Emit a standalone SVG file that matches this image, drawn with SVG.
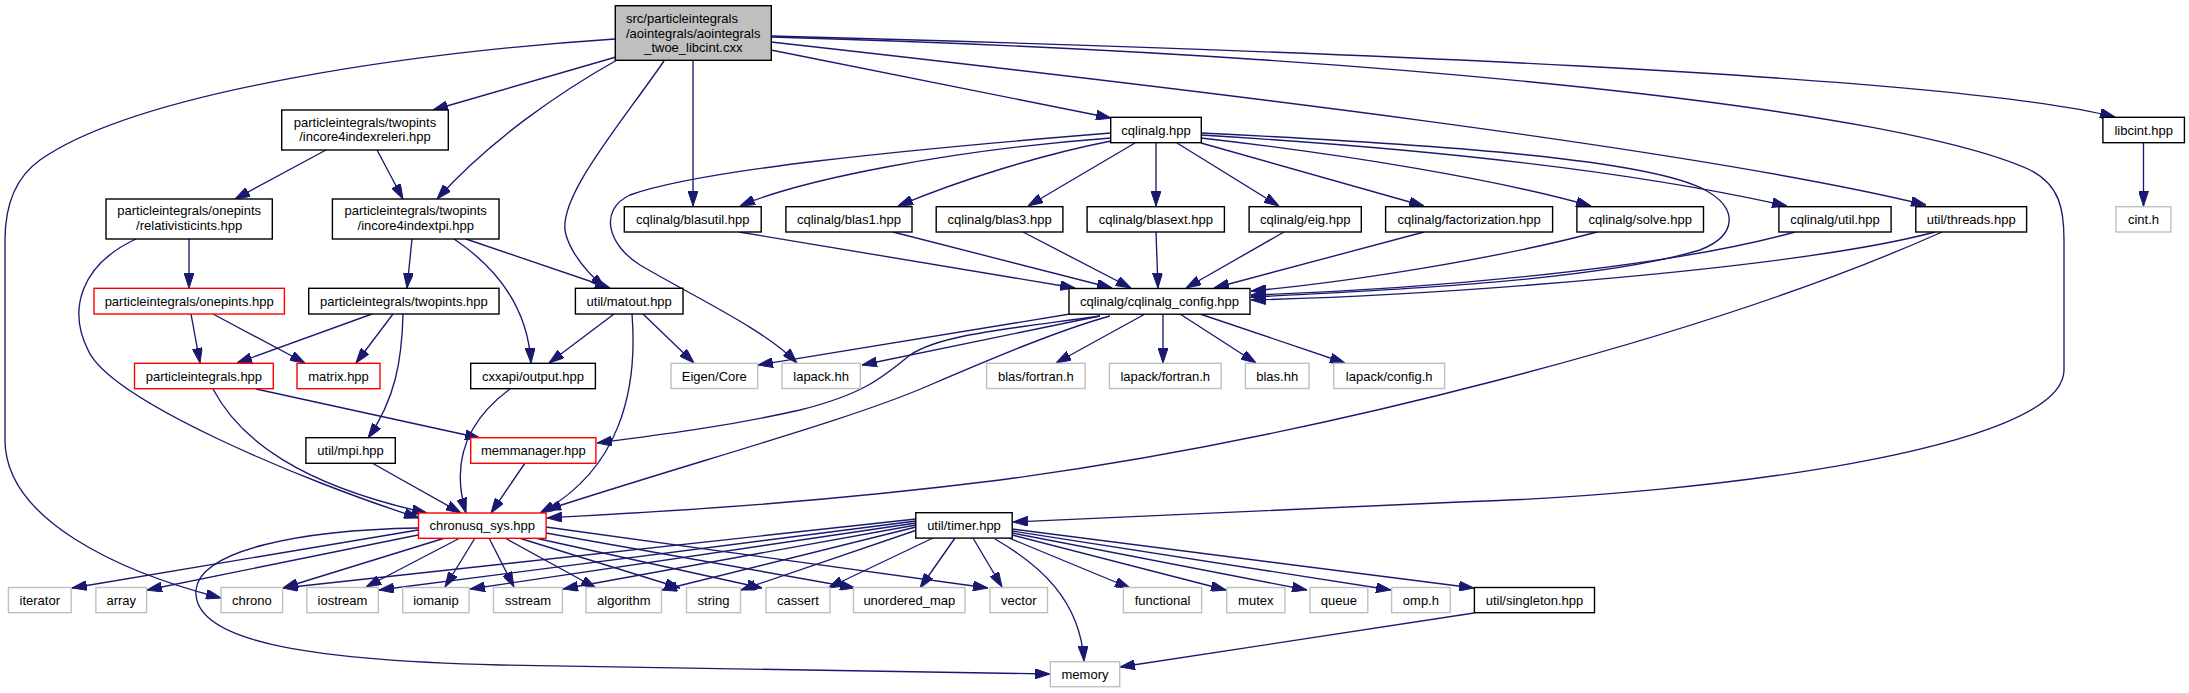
<svg xmlns="http://www.w3.org/2000/svg" width="2189" height="693" viewBox="0 0 2189 693">
<style>
rect{stroke-width:1.4}
.n{fill:#fff;stroke:#000}
.r{fill:#fff;stroke:#ff0000}
.g{fill:#fff;stroke:#bfbfbf}
.root{fill:#bfbfbf;stroke:#000}
text{font-family:"Liberation Sans",Arial,sans-serif;font-size:13px;fill:#000;text-anchor:middle}
#edges path{fill:none;stroke:#191970;stroke-width:1.35;marker-end:url(#a)}
</style>
<defs>
<marker id="a" markerUnits="userSpaceOnUse" markerWidth="15" markerHeight="10" refX="15" refY="5" orient="auto" viewBox="0 0 15 10"><path d="M0,0 L15,5 L0,10 z" fill="#191970" stroke="#191970" stroke-width="1"/></marker>
</defs>
<rect width="2189" height="693" fill="#fff"/>
<g id="edges">
<path d="M615,39 C420,52 140,90 40,160 C12,180 5,210 5,240 L5,440 C5,520 120,572 221,598"/>
<path d="M616,57 L433,110"/>
<path d="M617,60 C560,92 490,140 437,199"/>
<path d="M664,61 C620,125 555,200 566,235 C572,255 590,275 605,288"/>
<path d="M693,60 L693,206"/>
<path d="M771,50 L1111,118"/>
<path d="M771,36 C1300,50 1950,75 2115,117"/>
<path d="M771,42 C1200,90 1700,150 1926,205"/>
<path d="M771,37 C1400,55 1900,110 2030,170 C2060,185 2064,210 2064,240 L2064,370 C2064,450 1700,495 1460,502 C1250,510 1100,518 1013,522"/>
<path d="M326,150 L235,199"/>
<path d="M377,150 L403,199"/>
<path d="M189,239 L189,288"/>
<path d="M136,239 C80,265 68,310 88,350 C110,400 300,480 419,518"/>
<path d="M412,239 L407,288"/>
<path d="M466,239 L610,288"/>
<path d="M454,239 C500,270 528,310 531,363"/>
<path d="M191,314 L200,363"/>
<path d="M213,314 L305,363"/>
<path d="M372,314 L237,363"/>
<path d="M393,314 L356,363"/>
<path d="M403,314 C402,360 395,400 368,438"/>
<path d="M614,314 L549,363"/>
<path d="M643,314 L694,363"/>
<path d="M632,314 C638,390 620,470 540,513"/>
<path d="M256,389 L480,438"/>
<path d="M213,389 C240,440 300,485 427,513"/>
<path d="M510,389 C468,420 450,460 466,513"/>
<path d="M372,463 L461,513"/>
<path d="M525,463 L491,513"/>
<path d="M1111,133 C900,150 700,170 630,195 C598,210 608,245 640,265 C700,300 765,330 797,363"/>
<path d="M1111,138 C950,150 800,180 740,206"/>
<path d="M1111,141 C1040,155 960,180 898,206"/>
<path d="M1135,143 L1028,206"/>
<path d="M1156,143 L1156,206"/>
<path d="M1177,143 L1279,206"/>
<path d="M1201,143 L1424,206"/>
<path d="M1201,138 C1350,155 1500,180 1591,206"/>
<path d="M1201,135 C1450,150 1650,175 1787,206"/>
<path d="M1201,133 C1450,145 1650,160 1705,190 C1738,208 1738,235 1700,250 C1600,280 1400,290 1251,297"/>
<path d="M739,232 L1075,288"/>
<path d="M893,232 L1112,288"/>
<path d="M1023,232 L1131,288"/>
<path d="M1156,232 L1158,288"/>
<path d="M1284,232 L1186,288"/>
<path d="M1424,232 L1214,288"/>
<path d="M1597,232 C1500,258 1350,282 1251,291"/>
<path d="M1795,232 C1650,272 1400,290 1251,295"/>
<path d="M1935,232 C1800,268 1450,295 1251,300"/>
<path d="M1942,232 C1700,340 1300,440 1000,480 C800,505 650,512 547,518"/>
<path d="M2143.5,143 L2143.5,206"/>
<path d="M1070,314 L758,365"/>
<path d="M1100,316 L862,365"/>
<path d="M1100,316 C1000,330 940,335 910,355 C880,380 860,395 800,410 C720,428 650,436 597,443"/>
<path d="M1110,316 C1060,330 1000,355 930,385 C850,420 700,460 546,510"/>
<path d="M1145,314 L1056,363"/>
<path d="M1163,314 L1163,363"/>
<path d="M1180,314 L1256,363"/>
<path d="M1200,314 L1345,363"/>
<path d="M418,530 L72,588"/>
<path d="M418,535 L147,590"/>
<path d="M445,538 L283,588"/>
<path d="M460,538 L366,587"/>
<path d="M475,538 L445,587"/>
<path d="M489,538 L514,587"/>
<path d="M505,538 L596,588"/>
<path d="M519,538 L680,588"/>
<path d="M535,538 L762,588"/>
<path d="M546,533 L855,588"/>
<path d="M546,527 L988,588"/>
<path d="M418,528 C300,530 200,550 196,590 C192,640 300,660 500,665 C700,670 900,672 1050,674"/>
<path d="M916,519 L283,588"/>
<path d="M916,521 L379,590"/>
<path d="M916,523 L470,589"/>
<path d="M916,525 L563,589"/>
<path d="M916,527 L662,590"/>
<path d="M917,530 L741,590"/>
<path d="M933,538 L828,588"/>
<path d="M955,538 L920,588"/>
<path d="M973,538 L1002,587"/>
<path d="M995,539 C1040,565 1080,600 1084,661"/>
<path d="M1009,538 L1130,588"/>
<path d="M1012,535 L1226,590"/>
<path d="M1012,533 L1307,590"/>
<path d="M1012,531 L1391,590"/>
<path d="M1012,529 L1474,588"/>
<path d="M1474,613 L1120,667"/>
</g>
<g id="root"><rect class="root" x="615.3" y="5.7" width="156" height="54.6"/><text x="626" y="23" style="text-anchor:start">src/particleintegrals</text><text x="626" y="37.5" style="text-anchor:start">/aointegrals/aointegrals</text><text x="693.3" y="51.5">_twoe_libcint.cxx</text></g>
<g id="incore4indexreleri"><rect class="n" x="281.7" y="110" width="166.6" height="40"/><text x="365" y="126.6">particleintegrals/twopints</text><text x="365" y="141.3">/incore4indexreleri.hpp</text></g>
<g id="relativisticints"><rect class="n" x="106" y="199" width="166.3" height="40"/><text x="189.2" y="215.3">particleintegrals/onepints</text><text x="189.2" y="230.3">/relativisticints.hpp</text></g>
<g id="incore4indextpi"><rect class="n" x="332.4" y="199" width="166.6" height="40"/><text x="415.7" y="215.3">particleintegrals/twopints</text><text x="415.7" y="230.3">/incore4indextpi.hpp</text></g>
<g id="onepints"><rect class="r" x="94" y="288.3" width="190.4" height="25.7"/><text x="189.2" y="305.8">particleintegrals/onepints.hpp</text></g>
<g id="twopints"><rect class="n" x="308.7" y="288.3" width="190.3" height="25.7"/><text x="403.9" y="305.8">particleintegrals/twopints.hpp</text></g>
<g id="matout"><rect class="n" x="575.4" y="288.3" width="107.6" height="25.7"/><text x="629.2" y="305.8">util/matout.hpp</text></g>
<g id="cqlinalg_config"><rect class="n" x="1069" y="288.5" width="181" height="25.7"/><text x="1159.5" y="306">cqlinalg/cqlinalg_config.hpp</text></g>
<g id="particleintegrals"><rect class="r" x="134.5" y="363.3" width="138.8" height="25.4"/><text x="203.9" y="380.6">particleintegrals.hpp</text></g>
<g id="matrix"><rect class="r" x="297" y="363.3" width="83" height="25.4"/><text x="338.5" y="380.6">matrix.hpp</text></g>
<g id="output"><rect class="n" x="470.7" y="363.3" width="124.7" height="25.4"/><text x="533" y="380.6">cxxapi/output.hpp</text></g>
<g id="eigen"><rect class="g" x="671" y="363.3" width="86.7" height="25.2"/><text x="714.3" y="380.6">Eigen/Core</text></g>
<g id="lapackhh"><rect class="g" x="782" y="363.3" width="78.3" height="25.2"/><text x="821.1" y="380.6">lapack.hh</text></g>
<g id="blasfortran"><rect class="g" x="986.6" y="363.3" width="98.6" height="25.2"/><text x="1035.9" y="380.6">blas/fortran.h</text></g>
<g id="lapackfortran"><rect class="g" x="1109.4" y="363.3" width="111.8" height="25.2"/><text x="1165.3" y="380.6">lapack/fortran.h</text></g>
<g id="blashh"><rect class="g" x="1245.4" y="363.3" width="63.7" height="25.2"/><text x="1277.2" y="380.6">blas.hh</text></g>
<g id="lapackconfig"><rect class="g" x="1333.8" y="363.3" width="110.8" height="25.2"/><text x="1389.2" y="380.6">lapack/config.h</text></g>
<g id="mpi"><rect class="n" x="305.9" y="437.7" width="89.4" height="25.6"/><text x="350.6" y="455.1">util/mpi.hpp</text></g>
<g id="memmanager"><rect class="r" x="470.7" y="437.7" width="125.2" height="25.6"/><text x="533.3" y="455.1">memmanager.hpp</text></g>
<g id="chronusq_sys"><rect class="r" x="418.5" y="513" width="127.6" height="25.3"/><text x="482.3" y="530.2">chronusq_sys.hpp</text></g>
<g id="timer"><rect class="n" x="915.8" y="512.7" width="96.4" height="25.4"/><text x="964" y="530">util/timer.hpp</text></g>
<g id="iterator"><rect class="g" x="8.4" y="587.5" width="62.8" height="25.2"/><text x="39.8" y="604.7">iterator</text></g>
<g id="array"><rect class="g" x="95.9" y="587.5" width="50.7" height="25.2"/><text x="121.3" y="604.7">array</text></g>
<g id="chrono"><rect class="g" x="221.1" y="587.5" width="61.5" height="25.2"/><text x="251.9" y="604.7">chrono</text></g>
<g id="iostream"><rect class="g" x="306.8" y="587.5" width="71.5" height="25.2"/><text x="342.5" y="604.7">iostream</text></g>
<g id="iomanip"><rect class="g" x="402.7" y="587.5" width="66.3" height="25.2"/><text x="435.9" y="604.7">iomanip</text></g>
<g id="sstream"><rect class="g" x="493.5" y="587.5" width="68.9" height="25.2"/><text x="528" y="604.7">sstream</text></g>
<g id="algorithm"><rect class="g" x="586" y="587.5" width="75.5" height="25.2"/><text x="623.8" y="604.7">algorithm</text></g>
<g id="string"><rect class="g" x="686.5" y="587.5" width="54" height="25.2"/><text x="713.5" y="604.7">string</text></g>
<g id="cassert"><rect class="g" x="766" y="587.5" width="64" height="25.2"/><text x="798" y="604.7">cassert</text></g>
<g id="unordered_map"><rect class="g" x="853.5" y="587.5" width="111.5" height="25.2"/><text x="909.3" y="604.7">unordered_map</text></g>
<g id="vector"><rect class="g" x="990" y="587.5" width="57.5" height="25.2"/><text x="1018.8" y="604.7">vector</text></g>
<g id="functional"><rect class="g" x="1123.4" y="587.5" width="78.2" height="25.2"/><text x="1162.5" y="604.7">functional</text></g>
<g id="mutex"><rect class="g" x="1226.7" y="587.5" width="58.2" height="25.2"/><text x="1255.8" y="604.7">mutex</text></g>
<g id="queue"><rect class="g" x="1310" y="587.5" width="57.8" height="25.2"/><text x="1338.9" y="604.7">queue</text></g>
<g id="omp"><rect class="g" x="1391.6" y="587.5" width="58.6" height="25.2"/><text x="1420.9" y="604.7">omp.h</text></g>
<g id="singleton"><rect class="n" x="1474.4" y="587.5" width="120.1" height="25.2"/><text x="1534.5" y="604.7">util/singleton.hpp</text></g>
<g id="memory"><rect class="g" x="1050.3" y="661.7" width="69.4" height="25"/><text x="1085" y="678.8">memory</text></g>
<g id="cqlinalg"><rect class="n" x="1110.7" y="117.3" width="90.6" height="25.4"/><text x="1156" y="134.6">cqlinalg.hpp</text></g>
<g id="blasutil"><rect class="n" x="624.3" y="206.7" width="136.9" height="25.3"/><text x="692.8" y="224">cqlinalg/blasutil.hpp</text></g>
<g id="blas1"><rect class="n" x="785.9" y="206.7" width="126.1" height="25.3"/><text x="849" y="224">cqlinalg/blas1.hpp</text></g>
<g id="blas3"><rect class="n" x="936.2" y="206.7" width="126.7" height="25.3"/><text x="999.6" y="224">cqlinalg/blas3.hpp</text></g>
<g id="blasext"><rect class="n" x="1087.1" y="206.7" width="137.3" height="25.3"/><text x="1155.8" y="224">cqlinalg/blasext.hpp</text></g>
<g id="eig"><rect class="n" x="1249.1" y="206.7" width="112.2" height="25.3"/><text x="1305.2" y="224">cqlinalg/eig.hpp</text></g>
<g id="factorization"><rect class="n" x="1385.6" y="206.7" width="167" height="25.3"/><text x="1469.1" y="224">cqlinalg/factorization.hpp</text></g>
<g id="solve"><rect class="n" x="1576.9" y="206.7" width="126.6" height="25.3"/><text x="1640.2" y="224">cqlinalg/solve.hpp</text></g>
<g id="util"><rect class="n" x="1778.9" y="206.7" width="112.2" height="25.3"/><text x="1835" y="224">cqlinalg/util.hpp</text></g>
<g id="threads"><rect class="n" x="1915.8" y="206.7" width="110.8" height="25.3"/><text x="1971.2" y="224">util/threads.hpp</text></g>
<g id="libcint"><rect class="n" x="2102.9" y="117.3" width="81.5" height="25.4"/><text x="2143.7" y="134.6">libcint.hpp</text></g>
<g id="cint"><rect class="g" x="2116" y="206.7" width="54.9" height="25.3"/><text x="2143.5" y="224">cint.h</text></g>
</svg>
